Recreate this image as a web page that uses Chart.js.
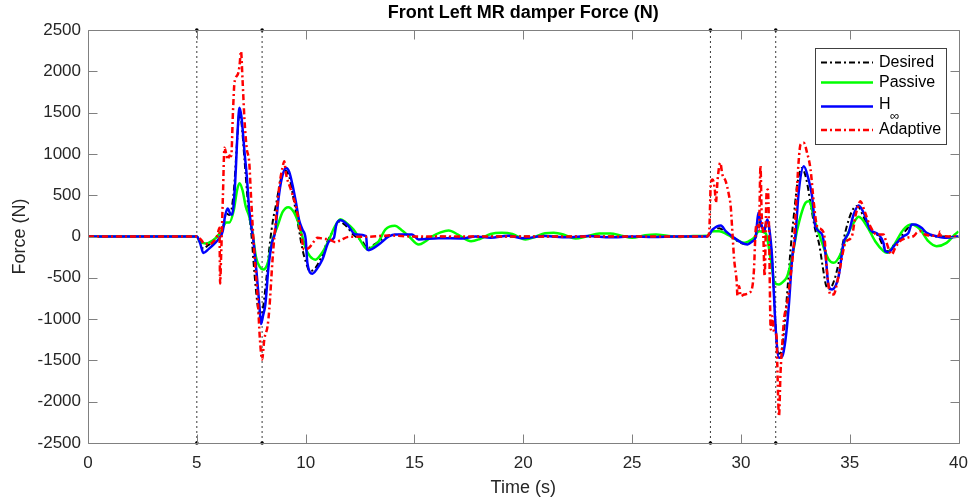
<!DOCTYPE html>
<html>
<head>
<meta charset="utf-8">
<script src="https://cdn.jsdelivr.net/npm/chart.js@4/dist/chart.umd.min.js"></script>
<style>
  html, body { margin: 0; padding: 0; background: #ffffff; }
  canvas { display: block; }
</style>
</head>
<body>
<canvas id="chart" width="978" height="501"></canvas>
<script>
// ---- Labels ----
const titleText = 'Front Left MR damper Force (N)';
const xTitle = 'Time (s)';
const yTitle = 'Force (N)';
const seriesNames = ['Desired', 'Passive', 'H', 'Adaptive'];

// ---- Axis ranges and tick steps ----
const timeRange = [0, 40];
const forceRange = [-2500, 2500];
const timeStep = 5;
const forceStep = 500;

// ---- Road-event switching instants (s) ----
const switchTimes = [5, 8, 28.6, 31.6];

// ---- Damper force series: [time (s), force (N)] ----
const desired = [
  [0,0],[5,0],[5.15,-60],[5.3,-150],[5.5,-110],[5.75,-50],[6.0,20],[6.2,100],[6.35,280],[6.5,260],
  [6.7,550],[6.85,1150],[6.95,1480],[7.05,1380],[7.2,900],[7.35,400],[7.5,50],[7.65,-450],[7.8,-850],
  [7.92,-1000],[8.05,-850],[8.2,-500],[8.35,-100],[8.5,200],[8.65,400],[8.85,680],[9.05,800],[9.25,720],
  [9.45,450],[9.65,150],[9.85,-150],[10.0,-300],[10.2,-420],[10.45,-380],[10.7,-260],[11.0,-60],
  [11.3,80],[11.55,180],[11.85,130],[12.2,20],[12.6,-60],[12.85,-140],[13.2,-90],[13.7,0],[14.1,20],
  [14.8,10],[15.3,-20],[16.0,0],[17,-10],[18,0],[20,0],[22,0],[24,0],[26,0],[28.4,0],[28.7,60],
  [29.0,100],[29.3,50],[29.7,-30],[30.0,-80],[30.3,-90],[30.55,-40],[30.7,0],[30.8,230],[30.9,150],
  [31.05,50],[31.2,180],[31.3,80],[31.45,-350],[31.6,-1100],[31.72,-1420],[31.85,-1400],[32.0,-1100],
  [32.15,-600],[32.3,-100],[32.45,300],[32.6,650],[32.8,830],[33.0,700],[33.2,400],[33.4,100],
  [33.6,-100],[33.75,-350],[33.9,-580],[34.05,-640],[34.3,-520],[34.55,-250],[34.75,0],[34.95,200],
  [35.15,330],[35.35,370],[35.6,260],[35.9,80],[36.3,10],[36.55,-120],[36.75,-180],[37.0,-110],
  [37.35,0],[37.6,80],[37.8,140],[38.0,140],[38.3,90],[38.6,30],[39.0,0],[40,0]
];

const passive = [
  [0,0],[5,0],[5.13,-60],[5.4,-85],[5.73,-50],[6.0,20],[6.2,110],[6.35,170],[6.5,170],[6.7,320],
  [6.85,560],[6.96,645],[7.1,560],[7.25,360],[7.41,240],[7.55,60],[7.72,-250],[7.9,-370],[8.05,-400],
  [8.25,-330],[8.48,-40],[8.7,120],[8.95,300],[9.2,355],[9.45,300],[9.65,180],[9.85,0],[10.0,-140],
  [10.2,-240],[10.45,-280],[10.75,-200],[11.08,-36],[11.3,100],[11.6,210],[11.85,170],[12.2,85],
  [12.5,-40],[12.68,-117],[12.85,-157],[13.1,-120],[13.36,-57],[13.67,85],[14.1,130],[14.4,80],
  [14.74,4],[15.2,-97],[15.5,-60],[15.8,0],[16.2,50],[16.57,73],[17.0,24],[17.6,-57],[18.0,-30],
  [18.5,30],[19.0,45],[19.5,30],[20.1,-36],[20.5,-10],[21.0,40],[21.4,45],[21.9,20],[22.4,-25],
  [22.9,0],[23.5,35],[24.0,36],[24.5,10],[25.0,-15],[25.6,15],[26.1,24],[26.6,10],[27.2,-5],
  [27.8,5],[28.45,8],[28.7,64],[29.0,64],[29.38,24],[29.84,-44],[30.15,-77],[30.37,-57],[30.6,-16],
  [30.83,64],[31.14,40],[31.37,-278],[31.55,-561],[31.75,-581],[31.97,-541],[32.13,-480],[32.36,-238],
  [32.59,85],[32.97,408],[33.12,428],[33.42,165],[33.73,-77],[34.03,-278],[34.26,-319],[34.57,-218],
  [34.8,-36],[35.0,80],[35.18,165],[35.41,238],[35.79,125],[36.17,-57],[36.55,-177],[36.7,-198],
  [37.0,-117],[37.47,85],[37.85,145],[38.23,85],[38.61,-57],[38.99,-117],[39.45,-77],[39.83,24],[40,60]
];

const hInf = [
  [0,0],[5,0],[5.15,-80],[5.3,-200],[5.55,-150],[5.8,-90],[6.04,-16],[6.19,64],[6.3,250],[6.42,340],
  [6.55,270],[6.62,266],[6.75,600],[6.88,1300],[6.96,1560],[7.05,1450],[7.2,1000],[7.3,720],[7.4,350],
  [7.5,130],[7.6,-50],[7.75,-450],[7.88,-850],[7.95,-1060],[8.05,-950],[8.15,-820],[8.3,-350],
  [8.45,-80],[8.6,60],[8.75,450],[8.9,700],[9.1,830],[9.25,780],[9.4,620],[9.55,420],[9.7,200],
  [9.85,85],[10.0,-30],[10.08,-320],[10.31,-450],[10.5,-400],[10.77,-278],[11.08,-57],[11.3,-16],
  [11.41,145],[11.61,197],[11.91,145],[12.3,24],[12.78,4],[12.83,-157],[12.9,-165],[13.36,-97],
  [13.82,0],[14.13,24],[14.89,24],[15.19,-36],[16.1,-20],[17.2,-24],[17.8,0],[18.5,-15],[19.3,10],
  [20.0,-20],[21.0,5],[22.0,-10],[23.0,5],[24.0,-10],[25.0,0],[26.0,-5],[27.0,0],[28.45,0],
  [28.7,85],[29.08,133],[29.3,64],[29.69,-16],[29.99,-69],[30.3,-97],[30.53,-57],[30.68,-4],
  [30.8,287],[30.9,185],[31.06,64],[31.21,206],[31.29,125],[31.44,-278],[31.52,-722],[31.6,-1126],
  [31.75,-1469],[31.9,-1449],[32.05,-1247],[32.2,-844],[32.36,-250],[32.5,0],[32.66,550],[32.89,851],
  [33.1,700],[33.27,488],[33.42,125],[33.73,24],[33.88,-198],[34.03,-601],[34.19,-642],[34.49,-480],
  [34.72,-77],[34.95,44],[35.18,266],[35.41,375],[35.64,287],[35.94,85],[36.32,24],[36.55,-77],
  [36.63,-177],[36.78,-190],[37.09,-97],[37.47,4],[37.7,44],[37.85,145],[38.0,145],[38.3,105],
  [38.53,44],[38.99,4],[39.45,-16],[40,0]
];

const adaptive = [
  [0,0],[5,0],[5.2,-40],[5.35,-90],[5.6,-90],[5.8,-50],[5.95,20],[6.04,105],[6.07,-570],[6.12,-200],
  [6.2,500],[6.27,1074],[6.35,1000],[6.42,932],[6.5,980],[6.58,972],[6.66,1500],[6.73,1861],[6.88,1961],
  [6.96,2062],[7.03,2243],[7.1,1900],[7.19,1417],[7.29,1074],[7.41,892],[7.49,488],[7.64,-198],
  [7.8,-763],[7.9,-1247],[8.0,-1489],[8.1,-1247],[8.25,-1086],[8.33,-884],[8.48,-278],[8.65,250],
  [8.79,609],[8.95,850],[9.02,912],[9.09,771],[9.32,569],[9.55,367],[9.78,45],[9.93,-157],[10.16,-137],
  [10.39,-57],[10.54,-16],[10.85,-28],[11.08,-36],[11.38,-69],[11.6,-45],[11.99,-4],[12.75,-4],
  [13.82,12],[15,0],[20,0],[25,0],[28.45,0],[28.54,45],[28.62,650],[28.7,690],[28.8,569],[28.85,408],
  [28.93,690],[29.05,892],[29.15,750],[29.3,670],[29.46,488],[29.53,367],[29.61,45],[29.69,-278],
  [29.81,-561],[29.84,-722],[29.92,-601],[29.99,-722],[30.15,-702],[30.38,-682],[30.53,-601],
  [30.6,-400],[30.68,85],[30.75,150],[30.83,85],[30.9,860],[30.95,300],[31.03,4],[31.09,-480],
  [31.18,529],[31.24,569],[31.29,125],[31.37,-1126],[31.44,-965],[31.52,-1150],[31.64,-1207],
  [31.67,-1530],[31.75,-2176],[31.82,-1650],[31.9,-1300],[31.98,-1005],[32.13,-803],[32.28,-480],
  [32.43,-100],[32.55,450],[32.65,900],[32.74,1114],[32.89,1134],[33.04,1013],[33.2,811],[33.35,408],
  [33.5,125],[33.81,44],[33.96,-440],[34.11,-702],[34.26,-702],[34.42,-561],[34.57,-359],[34.8,-77],
  [35.1,4],[35.26,246],[35.41,387],[35.48,428],[35.71,287],[35.94,125],[36.25,24],[36.55,24],
  [36.67,-57],[36.86,-198],[36.93,-218],[37.09,-137],[37.31,-57],[37.62,-16],[37.93,4],[38.08,44],
  [38.23,64],[38.46,24],[38.8,10],[39.1,10],[39.15,60],[39.2,10],[39.6,0],[40,0]
];

// ---- Styling ----
const FONT = '"Liberation Sans", Arial, Helvetica, sans-serif';
const TEXT = '#262626';
const AXIS = '#808080';
const styles = [
  { color: '#000000', width: 2,   dash: [6, 3, 2, 3] },
  { color: '#00ff00', width: 2.5, dash: [] },
  { color: '#0000ff', width: 2.5, dash: [] },
  { color: '#ff0000', width: 2.5, dash: [6, 3, 2, 3] }
];

const toPoints = rows => rows.map(([t, f]) => ({ x: t, y: f }));
const plainNumber = v => String(v);

// Axes box, inward tick marks, titles and the framed legend
const framePlugin = {
  id: 'frame',
  afterDatasetsDraw(chart) {
    const { ctx, chartArea: a, scales: { x, y } } = chart;
    const L = Math.round(a.left) + 0.5, R = Math.round(a.right) + 0.5;
    const T = Math.round(a.top) + 0.5, B = Math.round(a.bottom) + 0.5;
    const len = 9;
    ctx.save();
    ctx.strokeStyle = AXIS;
    ctx.lineWidth = 1;
    ctx.beginPath();
    ctx.rect(L, T, R - L, B - T);
    x.ticks.forEach(t => {
      const px = Math.round(x.getPixelForValue(t.value)) + 0.5;
      ctx.moveTo(px, B); ctx.lineTo(px, B - len);
      ctx.moveTo(px, T); ctx.lineTo(px, T + len);
    });
    y.ticks.forEach(t => {
      const py = Math.round(y.getPixelForValue(t.value)) + 0.5;
      ctx.moveTo(L, py); ctx.lineTo(L + len, py);
      ctx.moveTo(R, py); ctx.lineTo(R - len, py);
    });
    ctx.stroke();
    ctx.restore();
  },
  afterDraw(chart) {
    const { ctx, chartArea: a } = chart;
    const cx = (a.left + a.right) / 2;
    ctx.save();
    ctx.fillStyle = '#000000';
    ctx.textAlign = 'center';
    ctx.textBaseline = 'middle';
    ctx.font = 'bold 18px ' + FONT;
    ctx.fillText(titleText, cx, 13);
    ctx.fillStyle = TEXT;
    ctx.font = '18px ' + FONT;
    ctx.fillText(xTitle, cx, 488);
    ctx.save();
    ctx.translate(20, (a.top + a.bottom) / 2);
    ctx.rotate(-Math.PI / 2);
    ctx.fillText(yTitle, 0, 0);
    ctx.restore();

    // legend
    const box = { x: 815.5, y: 48.5, w: 131, h: 96 };
    ctx.fillStyle = '#ffffff';
    ctx.fillRect(box.x, box.y, box.w, box.h);
    ctx.strokeStyle = '#404040';
    ctx.lineWidth = 1;
    ctx.strokeRect(box.x, box.y, box.w, box.h);
    const rows = [62.5, 82.5, 106.5, 130];
    ctx.textAlign = 'left';
    ctx.textBaseline = 'middle';
    seriesNames.forEach((name, i) => {
      const s = styles[i];
      const yy = rows[i];
      ctx.strokeStyle = s.color;
      ctx.lineWidth = s.width;
      ctx.setLineDash(s.dash);
      ctx.beginPath();
      ctx.moveTo(821, yy);
      ctx.lineTo(873, yy);
      ctx.stroke();
      ctx.setLineDash([]);
      ctx.fillStyle = '#000000';
      ctx.font = '16px ' + FONT;
      if (i === 2) {
        ctx.fillText(name, 879, yy - 2);
        ctx.font = '13px ' + FONT;
        ctx.fillText('\u221E', 890, yy + 10);
      } else {
        ctx.fillText(name, 879, yy);
      }
    });
    ctx.restore();
  }
};

const lineDataset = (rows, i, order) => ({
  label: seriesNames[i],
  data: toPoints(rows),
  borderColor: styles[i].color,
  borderWidth: styles[i].width,
  borderDash: styles[i].dash,
  pointRadius: 0,
  fill: false,
  cubicInterpolationMode: 'monotone',
  order: order
});

const markerDatasets = switchTimes.map(t => ({
  label: 't = ' + t,
  data: [{ x: t, y: forceRange[0] }, { x: t, y: forceRange[1] }],
  borderColor: '#3a3a3a',
  borderWidth: 1,
  borderDash: [2, 3],
  pointRadius: 1.8,
  pointBorderWidth: 0,
  pointBackgroundColor: '#000000',
  clip: false,
  order: 5
}));

Chart.defaults.font.family = FONT;

new Chart(document.getElementById('chart').getContext('2d'), {
  type: 'line',
  data: {
    datasets: [
      ...markerDatasets,
      lineDataset(desired, 0, 4),
      lineDataset(passive, 1, 3),
      lineDataset(hInf, 2, 2),
      lineDataset(adaptive, 3, 1)
    ]
  },
  options: {
    responsive: false,
    animation: false,
    devicePixelRatio: 1,
    layout: { padding: { top: 30, right: 17, left: 0, bottom: 0 } },
    plugins: {
      legend: { display: false },
      title: { display: false },
      tooltip: { enabled: false }
    },
    scales: {
      x: {
        type: 'linear',
        min: timeRange[0], max: timeRange[1],
        ticks: { stepSize: timeStep, padding: 10, color: TEXT, font: { size: 17 }, maxRotation: 0, callback: plainNumber },
        grid: { display: false, drawTicks: false },
        border: { display: false },
        afterFit(scale) { scale.height = 58; }
      },
      y: {
        type: 'linear',
        min: forceRange[0], max: forceRange[1],
        ticks: { stepSize: forceStep, padding: 7, color: TEXT, font: { size: 17 }, callback: plainNumber },
        grid: { display: false, drawTicks: false },
        border: { display: false },
        afterFit(scale) { scale.width = 88; }
      }
    }
  },
  plugins: [framePlugin]
});
</script>
</body>
</html>
